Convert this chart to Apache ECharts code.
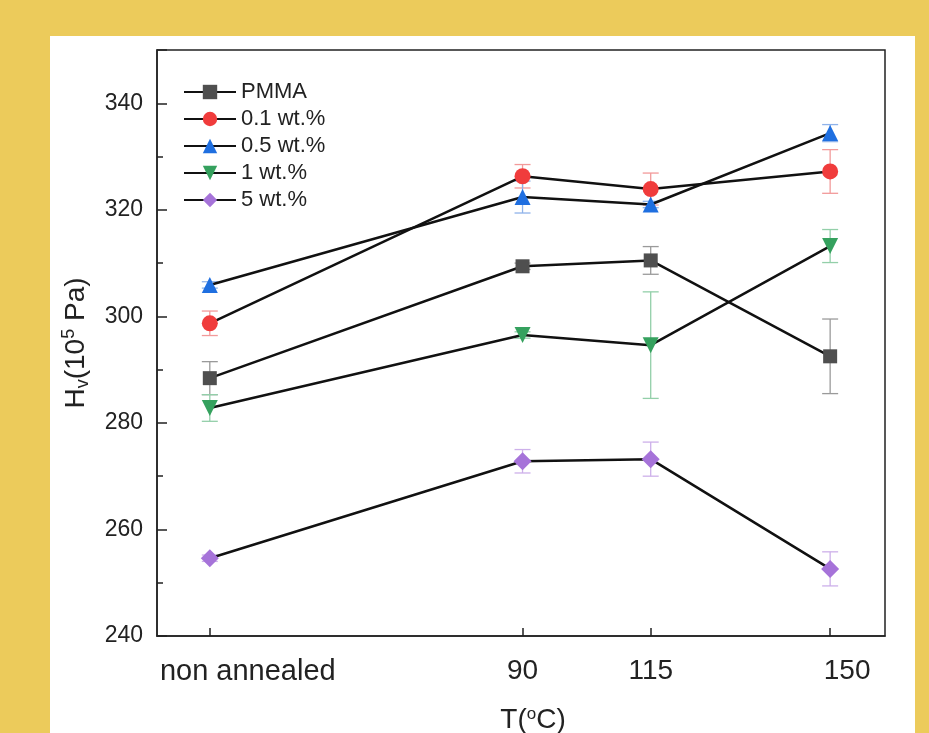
<!DOCTYPE html>
<html>
<head>
<meta charset="utf-8">
<script src="https://cdn.jsdelivr.net/npm/echarts@6/dist/echarts.min.js"></script>
<style>
  html, body { margin: 0; padding: 0; background: #ECCB5B; width: 929px; height: 733px; overflow: hidden; }
  #panel { position: absolute; left: 50px; top: 36px; width: 865px; height: 697px; background: #fff; }
  #main { width: 865px; height: 697px; }
</style>
</head>
<body>
<div id="panel"><div id="main"></div></div>
<script>
// x positions (non annealed placed at room temperature)
const xVals = [29, 90, 115, 150]
const xLabels = ['non annealed', '90', '115', '150']

// Hv values (10^5 Pa)
const pmma = [288.4, 309.4, 310.5, 292.5]
const wt01 = [298.7, 326.3, 323.9, 327.2]
const wt05 = [305.9, 322.4, 321.0, 334.4]
const wt1 = [282.8, 296.5, 294.6, 313.2]
const wt5 = [254.6, 272.8, 273.2, 252.6]

// error bars (±)
const pmmaErr = [3.1, 0.6, 2.6, 7.0]
const wt01Err = [2.3, 2.2, 3.0, 4.1]
const wt05Err = [0.6, 3.0, 0.6, 1.6]
const wt1Err = [2.5, 0.6, 10.0, 3.1]
const wt5Err = [0.6, 2.2, 3.2, 3.2]

const yTicks = [240, 260, 280, 300, 320, 340]

const seriesDefs = [
    { name: 'PMMA', data: pmma, err: pmmaErr, color: '#4f4f4f', errColor: '#9a9a9a', symbol: 'rect', size: 14, rotate: 0 },
    { name: '0.1 wt.%', data: wt01, err: wt01Err, color: '#f03c3c', errColor: '#f29a9a', symbol: 'circle', size: 16, rotate: 0 },
    { name: '0.5 wt.%', data: wt05, err: wt05Err, color: '#1f6fe0', errColor: '#8fb3ea', symbol: 'triangle', size: 16, rotate: 0 },
    { name: '1 wt.%', data: wt1, err: wt1Err, color: '#35a15e', errColor: '#93cfa9', symbol: 'triangle', size: 16, rotate: 180 },
    { name: '5 wt.%', data: wt5, err: wt5Err, color: '#a673d9', errColor: '#cdb0ea', symbol: 'diamond', size: 18, rotate: 0 }
]

const chart = echarts.init(document.getElementById('main'))

const series = []
seriesDefs.forEach(s => {
    // error bars
    series.push({
        type: 'custom',
        name: s.name + ' err',
        z: 1,
        silent: true,
        data: xVals.map((x, i) => [x, s.data[i] - s.err[i], s.data[i] + s.err[i]]),
        renderItem: (params, api) => {
            const lo = api.coord([api.value(0), api.value(1)])
            const hi = api.coord([api.value(0), api.value(2)])
            const w = 8
            const style = { stroke: s.errColor, lineWidth: 1.3 }
            return {
                type: 'group',
                children: [
                    { type: 'line', shape: { x1: lo[0], y1: lo[1], x2: hi[0], y2: hi[1] }, style },
                    { type: 'line', shape: { x1: lo[0] - w, y1: lo[1], x2: lo[0] + w, y2: lo[1] }, style },
                    { type: 'line', shape: { x1: hi[0] - w, y1: hi[1], x2: hi[0] + w, y2: hi[1] }, style }
                ]
            }
        }
    })
    series.push({
        type: 'line',
        name: s.name,
        z: 3,
        data: xVals.map((x, i) => [x, s.data[i]]),
        symbol: s.symbol,
        symbolSize: s.size,
        symbolRotate: s.rotate,
        itemStyle: { color: s.color, opacity: 1 },
        lineStyle: { color: '#111', width: 2.5 }
    })
})

chart.setOption({
    animation: false,
    textStyle: { fontFamily: 'Liberation Sans, Arial, sans-serif', color: '#222' },
    grid: {
        left: 107, right: 30, top: 14, bottom: 97,
        outerBoundsMode: 'none',
        show: true, borderColor: '#222', borderWidth: 1.5, backgroundColor: 'transparent'
    },
    legend: {
        data: seriesDefs.map(s => s.name),
        orient: 'vertical',
        left: 128, top: 40,
        itemWidth: 52, itemHeight: 18, itemGap: 5,
        textStyle: { fontSize: 22, lineHeight: 22, color: '#222' }
    },
    xAxis: {
        type: 'value',
        min: 18.7, max: 160.7,
        splitLine: { show: false },
        axisLine: { lineStyle: { color: '#222', width: 1.5 } },
        axisTick: { inside: true, length: 8, customValues: xVals, lineStyle: { color: '#222', width: 1.5 } },
        axisLabel: {
            customValues: xVals,
            fontSize: 28, margin: 21, color: '#222',
            formatter: v => {
                const i = xVals.indexOf(v)
                if (i === 0) return '{na|' + xLabels[i] + '}'
                if (i === 2) return '{up|' + xLabels[i] + '}'
                if (i === 3) return '{rt|' + xLabels[i] + '}'
                return xLabels[i]
            },
            rich: {
                na: { fontSize: 29, color: '#222', padding: [0, 0, 0, 76] },
                up: { fontSize: 28, color: '#222', padding: [0, 0, 8, 0] },
                rt: { fontSize: 28, color: '#222', padding: [0, 0, 0, 34] }
            }
        },
        name: '{t|T(}{s|o}{t|C)}',
        nameLocation: 'middle',
        nameGap: 70,
        nameTextStyle: {
            padding: [0, 0, 0, 24],
            rich: {
                t: { fontSize: 28, color: '#222' },
                s: { fontSize: 17, color: '#222', verticalAlign: 'top', padding: [0, 0, 12, 0] }
            }
        }
    },
    yAxis: {
        type: 'value',
        min: 240, max: 350, interval: 20,
        splitLine: { show: false },
        axisLine: { show: true, lineStyle: { color: '#222', width: 1.5 } },
        axisTick: { inside: true, length: 10, lineStyle: { color: '#222', width: 1.5 } },
        minorTick: { show: true, splitNumber: 2, length: 6, lineStyle: { color: '#222', width: 1.5 } },
        axisLabel: {
            fontSize: 23, margin: 14, color: '#222',
            formatter: v => (yTicks.indexOf(v) >= 0 ? String(v) : '')
        },
        name: '{t|H}{sub|v}{t|(10}{sup|5}{t| Pa)}',
        nameLocation: 'middle',
        nameRotate: 90,
        nameGap: 65,
        nameTextStyle: {
            rich: {
                t: { fontSize: 28, color: '#222' },
                sub: { fontSize: 18, color: '#222', padding: [14, 0, 0, 0] },
                sup: { fontSize: 18, color: '#222', padding: [0, 0, 14, 0] }
            }
        }
    },
    series
})
</script>
</body>
</html>
